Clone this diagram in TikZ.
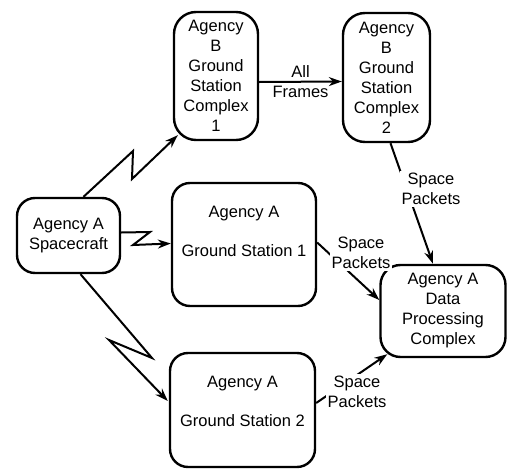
\documentclass[tikz,border=0pt]{standalone}
\usepackage{fontspec}
\setmainfont{Liberation Sans}
\usetikzlibrary{arrows.meta,calc}
\tikzset{
  box/.style={draw, line width=2.4pt, rounded corners=#1, align=center,
              inner sep=0pt, font=\fontsize{16.5}{20}\selectfont},
  box/.default=18pt,
  txt/.style={align=center, inner sep=1pt, font=\fontsize{16.5}{20}\selectfont},
  link/.style={line width=2pt, -{Stealth[length=13pt,width=9pt]}},
  tag/.style={txt, fill=white, inner sep=2pt}
}
\begin{document}
\begin{tikzpicture}[x=1pt,y=-1pt]
\useasboundingbox (0,0) rectangle (507,469);

% stations and complexes
\node[box=22pt, minimum width=84pt, minimum height=128pt] (b1) at (216,76)
  {Agency\\B\\Ground\\Station\\Complex\\1};
\node[box=22pt, minimum width=87pt, minimum height=129pt] (b2) at (386.5,77.5)
  {Agency\\B\\Ground\\Station\\Complex\\2};
\node[box, minimum width=103pt, minimum height=75pt] (sc) at (68.5,235.5)
  {Agency A\\Spacecraft};
\node[box, minimum width=144pt, minimum height=123pt] (gs1) at (244,244.5) {};
\node[txt] (gs1t) at (244,231) {Agency A\\[19pt]Ground Station 1};
\node[box, minimum width=145pt, minimum height=114pt] (gs2) at (242.5,410) {};
\node[txt] (gs2t) at (242.5,401) {Agency A\\[19pt]Ground Station 2};
\node[box=20pt, minimum width=125pt, minimum height=92pt] (dpc) at (443,311)
  {Agency A\\Data\\Processing\\Complex};

% radio links from the spacecraft (lightning style)
\draw[link] ($(sc.north)+(15,0)$) -- (133,151) -- (132,179) -- ($(b1.south west)+(5,-6)$);
\draw[link] ($(sc.east)+(0,-3)$) -- (150,232) -- (133,245) -- ($(gs1.west)+(0,-1)$);
\draw[link] ($(sc.south)+(12,0)$) -- (152,358) -- (109,340) -- ($(gs2.west)+(-1,-9)$);

% ground links
\draw[link] ($(b1.east)+(0,6)$) -- node[txt] (af) {All\\Frames} ($(b2.west)+(0,4)$);
\draw[link] ($(b2.south)+(4,0)$) -- ($(dpc.north)+(-10,0)$);
\node[tag] (sp1) at (431,189) {Space\\Packets};
\draw[link] ($(gs1.east)+(0,-2)$) -- ($(dpc.west)+(0,-11)$);
\node[tag] (sp2) at (361,253) {Space\\Packets};
\draw[link] ($(gs2.east)+(0,-7)$) -- ($(dpc.south west)+(8,-4)$);
\node[tag] (sp3) at (357,392) {Space\\Packets};
\end{tikzpicture}
\end{document}
